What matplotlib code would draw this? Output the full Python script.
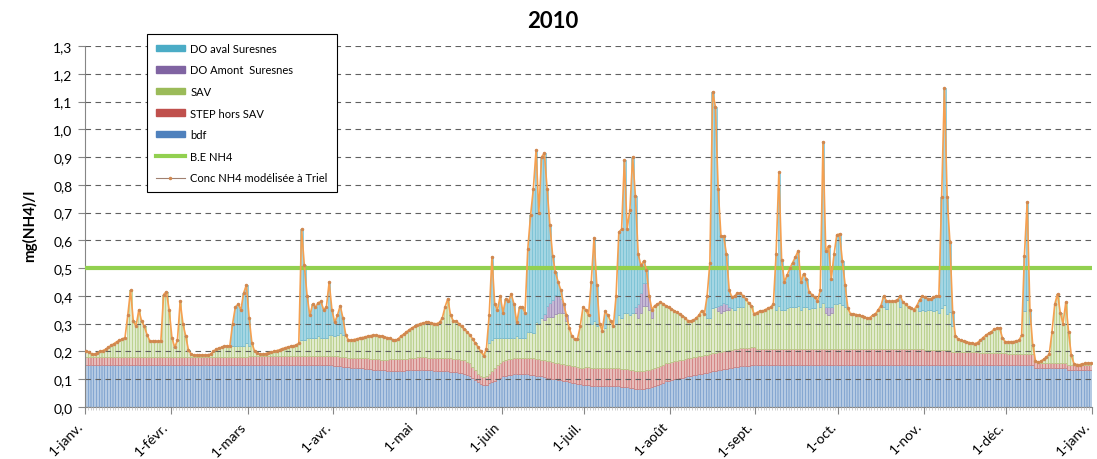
import numpy as np
import matplotlib
matplotlib.use("Agg")
import matplotlib.pyplot as plt
import matplotlib.transforms as mtransforms
from matplotlib.patches import Patch
from matplotlib.lines import Line2D
from matplotlib.colors import to_rgb

plt.rcParams['font.family'] = ['Lato', 'DejaVu Sans']

# Concentration NH4 modélisée à Triel, mg(NH4)/l, un point par jour (2010)
conc_triel = [
    # janv.
    0.200, 0.198, 0.190, 0.190, 0.195, 0.200, 0.203, 0.208, 0.215, 0.222,
    0.228, 0.235, 0.240, 0.245, 0.250, 0.330, 0.420, 0.310, 0.290, 0.350,
    0.310, 0.290, 0.260, 0.238, 0.236, 0.236, 0.236, 0.238, 0.405, 0.415,
    0.350,
    # févr.
    0.250, 0.215, 0.240, 0.380, 0.300, 0.255, 0.205, 0.190, 0.187, 0.187,
    0.187, 0.187, 0.187, 0.188, 0.190, 0.200, 0.208, 0.212, 0.215, 0.218,
    0.220, 0.220, 0.300, 0.360, 0.370, 0.350, 0.410, 0.440,
    # mars
    0.320, 0.230, 0.200, 0.195, 0.190, 0.190, 0.192, 0.195, 0.198, 0.200,
    0.203, 0.206, 0.210, 0.213, 0.216, 0.218, 0.220, 0.223, 0.230, 0.640,
    0.510, 0.400, 0.330, 0.370, 0.360, 0.375, 0.380, 0.350, 0.360, 0.450,
    0.350,
    # avr.
    0.305, 0.330, 0.365, 0.320, 0.260, 0.240, 0.240, 0.243, 0.245, 0.248,
    0.250, 0.252, 0.255, 0.257, 0.258, 0.258, 0.257, 0.255, 0.252, 0.250,
    0.247, 0.243, 0.240, 0.245, 0.255, 0.262, 0.270, 0.278, 0.285, 0.290,
    # mai
    0.295, 0.300, 0.302, 0.305, 0.305, 0.303, 0.300, 0.300, 0.305, 0.320,
    0.360, 0.390, 0.330, 0.310, 0.310, 0.300, 0.290, 0.280, 0.270, 0.260,
    0.245, 0.230, 0.215, 0.200, 0.185, 0.210, 0.330, 0.540, 0.370, 0.350,
    0.400,
    # juin
    0.340, 0.390, 0.380, 0.407, 0.370, 0.305, 0.360, 0.360, 0.340, 0.570,
    0.690, 0.785, 0.925, 0.700, 0.900, 0.915, 0.785, 0.655, 0.545, 0.485,
    0.450, 0.420, 0.370, 0.330, 0.285, 0.255, 0.245, 0.245, 0.290, 0.360,
    # juil.
    0.350, 0.330, 0.450, 0.610, 0.440, 0.300, 0.275, 0.345, 0.330, 0.310,
    0.290, 0.400, 0.630, 0.640, 0.890, 0.640, 0.710, 0.900, 0.760, 0.550,
    0.510, 0.525, 0.495, 0.400, 0.350, 0.365, 0.370, 0.377, 0.372, 0.365,
    0.360,
    # août
    0.353, 0.347, 0.341, 0.335, 0.329, 0.320, 0.311, 0.310, 0.312, 0.320,
    0.330, 0.347, 0.335, 0.400, 0.520, 1.135, 1.080, 0.785, 0.617, 0.615,
    0.550, 0.420, 0.395, 0.400, 0.410, 0.410, 0.400, 0.390, 0.375, 0.365,
    0.335,
    # sept.
    0.340, 0.345, 0.345, 0.350, 0.355, 0.360, 0.370, 0.550, 0.845, 0.530,
    0.450, 0.475, 0.500, 0.520, 0.540, 0.563, 0.450, 0.480, 0.460, 0.413,
    0.405, 0.395, 0.382, 0.420, 0.955, 0.560, 0.580, 0.460, 0.550, 0.620,
    # oct.
    0.623, 0.527, 0.440, 0.355, 0.335, 0.335, 0.333, 0.330, 0.328, 0.325,
    0.320, 0.322, 0.330, 0.335, 0.350, 0.365, 0.400, 0.382, 0.380, 0.380,
    0.382, 0.385, 0.400, 0.377, 0.370, 0.360, 0.355, 0.350, 0.365, 0.385,
    0.400,
    # nov.
    0.395, 0.390, 0.390, 0.395, 0.400, 0.400, 0.755, 1.148, 0.755, 0.593,
    0.341, 0.255, 0.245, 0.240, 0.238, 0.235, 0.232, 0.230, 0.228, 0.232,
    0.240, 0.250, 0.258, 0.265, 0.270, 0.280, 0.283, 0.285, 0.250, 0.235,
    # déc.
    0.235, 0.235, 0.235, 0.238, 0.240, 0.258, 0.545, 0.737, 0.350, 0.225,
    0.167, 0.161, 0.165, 0.172, 0.180, 0.190, 0.270, 0.370, 0.407, 0.340,
    0.300, 0.377, 0.270, 0.186, 0.155, 0.153, 0.152, 0.155, 0.157, 0.158,
    0.158,
]

# Part bruit de fond
bdf = [
    # janv.
    0.150, 0.150, 0.150, 0.150, 0.150, 0.150, 0.150, 0.150, 0.150, 0.150,
    0.150, 0.150, 0.150, 0.150, 0.150, 0.150, 0.150, 0.150, 0.150, 0.150,
    0.150, 0.150, 0.150, 0.150, 0.150, 0.150, 0.150, 0.150, 0.150, 0.150,
    0.150,
    # févr.
    0.150, 0.150, 0.150, 0.150, 0.150, 0.150, 0.150, 0.150, 0.150, 0.150,
    0.150, 0.150, 0.150, 0.150, 0.150, 0.150, 0.150, 0.150, 0.150, 0.150,
    0.150, 0.150, 0.150, 0.150, 0.150, 0.150, 0.150, 0.150,
    # mars
    0.150, 0.150, 0.150, 0.150, 0.150, 0.150, 0.150, 0.150, 0.150, 0.150,
    0.150, 0.150, 0.150, 0.150, 0.150, 0.150, 0.150, 0.150, 0.150, 0.150,
    0.150, 0.150, 0.150, 0.150, 0.150, 0.150, 0.150, 0.150, 0.150, 0.150,
    0.150,
    # avr.
    0.148, 0.147, 0.146, 0.145, 0.144, 0.143, 0.142, 0.141, 0.140, 0.140,
    0.139, 0.138, 0.137, 0.136, 0.135, 0.135, 0.134, 0.133, 0.132, 0.131,
    0.130, 0.130, 0.130, 0.130, 0.130, 0.131, 0.132, 0.133, 0.134, 0.135,
    # mai
    0.135, 0.135, 0.135, 0.134, 0.133, 0.132, 0.131, 0.130, 0.130, 0.130,
    0.129, 0.128, 0.127, 0.126, 0.125, 0.124, 0.122, 0.120, 0.115, 0.110,
    0.105, 0.098, 0.090, 0.083, 0.078, 0.080, 0.085, 0.090, 0.095, 0.100,
    0.105,
    # juin
    0.110, 0.112, 0.115, 0.117, 0.118, 0.120, 0.120, 0.120, 0.120, 0.118,
    0.117, 0.115, 0.113, 0.112, 0.110, 0.108, 0.106, 0.104, 0.102, 0.100,
    0.098, 0.096, 0.094, 0.092, 0.090, 0.088, 0.086, 0.084, 0.082, 0.080,
    # juil.
    0.079, 0.078, 0.077, 0.077, 0.077, 0.077, 0.077, 0.077, 0.077, 0.077,
    0.076, 0.075, 0.074, 0.073, 0.072, 0.071, 0.070, 0.068, 0.066, 0.065,
    0.065, 0.066, 0.068, 0.070, 0.073, 0.076, 0.080, 0.084, 0.088, 0.092,
    0.095,
    # août
    0.098, 0.100, 0.102, 0.104, 0.106, 0.108, 0.110, 0.112, 0.114, 0.116,
    0.118, 0.120, 0.122, 0.124, 0.126, 0.128, 0.130, 0.132, 0.134, 0.136,
    0.138, 0.140, 0.142, 0.144, 0.145, 0.146, 0.147, 0.148, 0.149, 0.150,
    0.150,
    # sept.
    0.150, 0.150, 0.150, 0.150, 0.150, 0.150, 0.150, 0.150, 0.150, 0.150,
    0.150, 0.150, 0.150, 0.150, 0.150, 0.150, 0.150, 0.150, 0.150, 0.150,
    0.150, 0.150, 0.150, 0.150, 0.150, 0.150, 0.150, 0.150, 0.150, 0.150,
    # oct.
    0.150, 0.150, 0.150, 0.150, 0.150, 0.150, 0.150, 0.150, 0.150, 0.150,
    0.150, 0.150, 0.150, 0.150, 0.150, 0.150, 0.150, 0.150, 0.150, 0.150,
    0.150, 0.150, 0.150, 0.150, 0.150, 0.150, 0.150, 0.150, 0.150, 0.150,
    0.150,
    # nov.
    0.150, 0.150, 0.150, 0.150, 0.150, 0.150, 0.150, 0.150, 0.150, 0.150,
    0.150, 0.150, 0.150, 0.150, 0.150, 0.150, 0.150, 0.150, 0.150, 0.150,
    0.150, 0.150, 0.150, 0.150, 0.150, 0.150, 0.150, 0.150, 0.150, 0.150,
    # déc.
    0.150, 0.150, 0.150, 0.150, 0.150, 0.150, 0.150, 0.150, 0.150, 0.150,
    0.142, 0.140, 0.140, 0.140, 0.140, 0.140, 0.140, 0.140, 0.140, 0.140,
    0.140, 0.140, 0.135, 0.135, 0.135, 0.135, 0.135, 0.135, 0.135, 0.135,
    0.135,
]

# Part des stations d'épuration hors Seine Aval
step_hors_sav = [
    # janv.
    0.030, 0.030, 0.030, 0.030, 0.030, 0.030, 0.030, 0.030, 0.030, 0.030,
    0.030, 0.030, 0.030, 0.030, 0.030, 0.030, 0.030, 0.030, 0.030, 0.030,
    0.030, 0.030, 0.030, 0.030, 0.030, 0.030, 0.030, 0.030, 0.030, 0.030,
    0.030,
    # févr.
    0.030, 0.030, 0.030, 0.030, 0.030, 0.030, 0.030, 0.030, 0.030, 0.030,
    0.030, 0.030, 0.030, 0.030, 0.030, 0.030, 0.030, 0.030, 0.030, 0.030,
    0.030, 0.030, 0.030, 0.030, 0.030, 0.030, 0.030, 0.030,
    # mars
    0.032, 0.032, 0.032, 0.032, 0.032, 0.032, 0.032, 0.032, 0.032, 0.032,
    0.032, 0.032, 0.032, 0.032, 0.032, 0.032, 0.032, 0.032, 0.032, 0.032,
    0.032, 0.032, 0.032, 0.032, 0.032, 0.032, 0.032, 0.032, 0.032, 0.032,
    0.032,
    # avr.
    0.035, 0.035, 0.035, 0.035, 0.035, 0.035, 0.035, 0.035, 0.035, 0.035,
    0.038, 0.038, 0.038, 0.038, 0.038, 0.038, 0.038, 0.038, 0.038, 0.038,
    0.042, 0.042, 0.042, 0.042, 0.042, 0.042, 0.042, 0.042, 0.042, 0.042,
    # mai
    0.045, 0.045, 0.045, 0.045, 0.045, 0.045, 0.045, 0.045, 0.045, 0.045,
    0.048, 0.048, 0.048, 0.048, 0.048, 0.048, 0.048, 0.048, 0.048, 0.048,
    0.040, 0.035, 0.030, 0.030, 0.030, 0.032, 0.035, 0.040, 0.045, 0.050,
    0.055,
    # juin
    0.057, 0.057, 0.057, 0.057, 0.057, 0.057, 0.057, 0.057, 0.057, 0.057,
    0.060, 0.060, 0.060, 0.060, 0.060, 0.060, 0.060, 0.060, 0.060, 0.060,
    0.060, 0.060, 0.060, 0.060, 0.060, 0.060, 0.060, 0.060, 0.060, 0.060,
    # juil.
    0.065, 0.065, 0.065, 0.065, 0.065, 0.065, 0.065, 0.065, 0.065, 0.065,
    0.065, 0.065, 0.065, 0.065, 0.065, 0.065, 0.065, 0.065, 0.065, 0.065,
    0.065, 0.065, 0.065, 0.065, 0.065, 0.065, 0.065, 0.065, 0.065, 0.065,
    0.065,
    # août
    0.065, 0.065, 0.065, 0.065, 0.065, 0.065, 0.065, 0.065, 0.065, 0.065,
    0.065, 0.065, 0.065, 0.065, 0.065, 0.065, 0.065, 0.065, 0.065, 0.065,
    0.065, 0.065, 0.065, 0.065, 0.065, 0.065, 0.065, 0.065, 0.065, 0.065,
    0.065,
    # sept.
    0.060, 0.060, 0.060, 0.060, 0.060, 0.060, 0.060, 0.060, 0.060, 0.060,
    0.060, 0.060, 0.060, 0.060, 0.060, 0.060, 0.060, 0.060, 0.060, 0.060,
    0.060, 0.060, 0.060, 0.060, 0.060, 0.060, 0.060, 0.060, 0.060, 0.060,
    # oct.
    0.060, 0.060, 0.060, 0.060, 0.060, 0.060, 0.060, 0.060, 0.060, 0.060,
    0.060, 0.060, 0.060, 0.060, 0.060, 0.060, 0.060, 0.060, 0.060, 0.060,
    0.060, 0.060, 0.060, 0.060, 0.060, 0.060, 0.060, 0.060, 0.060, 0.060,
    0.060,
    # nov.
    0.055, 0.055, 0.055, 0.055, 0.055, 0.055, 0.055, 0.055, 0.055, 0.055,
    0.048, 0.048, 0.048, 0.048, 0.048, 0.048, 0.048, 0.048, 0.048, 0.048,
    0.045, 0.045, 0.045, 0.045, 0.045, 0.045, 0.045, 0.045, 0.045, 0.045,
    # déc.
    0.040, 0.040, 0.040, 0.040, 0.040, 0.040, 0.040, 0.040, 0.040, 0.040,
    0.020, 0.020, 0.020, 0.020, 0.020, 0.020, 0.020, 0.020, 0.020, 0.020,
    0.020, 0.020, 0.015, 0.015, 0.015, 0.015, 0.015, 0.015, 0.015, 0.015,
    0.015,
]

# Déversoirs d'orage : seuls les jours de pluie ont une contribution (jour -> mg/l)
do_amont_suresnes = {
    166: 0.02, 167: 0.04, 168: 0.05, 169: 0.06, 170: 0.07, 171: 0.06,
    172: 0.05, 173: 0.03, 174: 0.02,
    199: 0.02, 200: 0.05, 201: 0.07, 202: 0.08, 203: 0.08, 204: 0.05, 205: 0.03,
    229: 0.02, 230: 0.03, 231: 0.03, 232: 0.02, 233: 0.01,
    268: 0.02, 269: 0.03, 270: 0.02,
}
do_aval_suresnes = {
    53: 0.08, 54: 0.14, 55: 0.15, 56: 0.13, 57: 0.19, 58: 0.21, 59: 0.10,
    78: 0.40, 79: 0.27, 80: 0.15, 81: 0.08, 82: 0.12, 83: 0.11, 84: 0.12,
    85: 0.13, 86: 0.10, 87: 0.11, 88: 0.19, 89: 0.09, 90: 0.05, 91: 0.07,
    92: 0.10, 93: 0.06,
    146: 0.10, 147: 0.30, 148: 0.12, 149: 0.10, 150: 0.15, 151: 0.09,
    152: 0.14, 153: 0.13, 154: 0.16, 155: 0.12, 156: 0.05, 157: 0.11,
    158: 0.11, 159: 0.09,
    160: 0.30, 161: 0.42, 162: 0.52, 163: 0.62, 164: 0.40, 165: 0.58,
    166: 0.58, 167: 0.42, 168: 0.28, 169: 0.16, 170: 0.08, 171: 0.05, 172: 0.03,
    183: 0.15, 184: 0.30, 185: 0.15, 188: 0.06, 192: 0.10, 193: 0.30,
    194: 0.32, 195: 0.55, 196: 0.30, 197: 0.38, 198: 0.56, 199: 0.40,
    200: 0.18, 201: 0.10, 202: 0.08, 203: 0.05,
    225: 0.08, 226: 0.20, 227: 0.78, 228: 0.72, 229: 0.42, 230: 0.25,
    231: 0.24, 232: 0.18, 233: 0.06, 234: 0.04, 235: 0.05, 236: 0.05,
    237: 0.05, 238: 0.04,
    250: 0.20, 251: 0.48, 252: 0.18, 253: 0.10, 254: 0.12, 255: 0.14,
    256: 0.16, 257: 0.18, 258: 0.20, 259: 0.10, 260: 0.12, 261: 0.10,
    262: 0.06, 263: 0.05, 264: 0.04, 266: 0.06, 267: 0.58, 268: 0.20,
    269: 0.22, 270: 0.10, 271: 0.18, 272: 0.25, 273: 0.25, 274: 0.16, 275: 0.08,
    289: 0.04, 290: 0.03, 295: 0.04, 302: 0.04, 303: 0.05, 304: 0.05,
    305: 0.04, 306: 0.04, 307: 0.05, 308: 0.05, 309: 0.06,
    310: 0.40, 311: 0.78, 312: 0.42, 313: 0.25, 314: 0.05,
    340: 0.20, 341: 0.35, 342: 0.05,
}

seuil_be_nh4 = 0.5

etiquettes_mois = ["1-janv.", "1-févr.", "1-mars", "1-avr.", "1-mai", "1-juin",
                   "1-juil.", "1-août", "1-sept.", "1-oct.", "1-nov.", "1-déc.",
                   "1-janv."]
jours_par_mois = [31, 28, 31, 30, 31, 30, 31, 31, 30, 31, 30, 31]

# --- mise en forme des séries ---
n = len(conc_triel)
jours = np.arange(n)
conc = np.array(conc_triel)
bdf_a = np.array(bdf)
step_a = np.array(step_hors_sav)
amont_a = np.zeros(n)
for j, v in do_amont_suresnes.items():
    amont_a[j] = v
aval_a = np.zeros(n)
for j, v in do_aval_suresnes.items():
    aval_a[j] = v
# la part SAV complète la concentration modélisée
sav_a = np.clip(conc - bdf_a - step_a - amont_a - aval_a, 0, None)

couleurs = {
    "bdf": "#4F81BD",
    "step": "#C0504D",
    "sav": "#9BBB59",
    "amont": "#8064A2",
    "aval": "#4BACC6",
}


def eclaircir(c, f):
    r, g, b = to_rgb(c)
    return (1 - f * (1 - r), 1 - f * (1 - g), 1 - f * (1 - b))


fig = plt.figure(figsize=(10.97, 4.60), dpi=100)
ax = fig.add_axes([85 / 1097, 1 - 408 / 460, 1007 / 1097, 361 / 460])

bas = np.zeros(n)
for valeurs, cle, f in [(bdf_a, "bdf", 0.42), (step_a, "step", 0.38),
                        (sav_a, "sav", 0.3), (amont_a, "amont", 0.45),
                        (aval_a, "aval", 0.5)]:
    ax.bar(jours, valeurs, width=0.9, bottom=bas, color=eclaircir(couleurs[cle], f),
           edgecolor=eclaircir(couleurs[cle], 0.8), linewidth=0.45, zorder=1)
    bas = bas + valeurs

ax.axhline(seuil_be_nh4, color="#92D050", linewidth=3, zorder=3)
ax.plot(jours, conc, color="#F5A050", linewidth=1.2, marker="o", markersize=1.5,
        markerfacecolor="#d08850", markeredgecolor="#d08850", zorder=4)

ax.set_xlim(-0.5, n - 0.5)
ax.set_ylim(0, 1.3)

debuts = np.concatenate([[0], np.cumsum(jours_par_mois)]) - 0.5
ax.set_xticks(debuts)
ax.set_xticklabels(etiquettes_mois, rotation=45, ha="right", va="top",
                   rotation_mode="anchor", fontsize=10)
ax.set_xticks(jours - 0.5, minor=True)
ax.tick_params(axis="x", which="major", length=5, color="#868686", pad=4)
ax.tick_params(axis="x", which="minor", length=2, color="#c8c8c8")

yt = np.round(np.arange(0, 1.31, 0.1), 1)
ax.set_yticks(yt)
ax.set_yticklabels([f"{v:.1f}".replace(".", ",") for v in yt], fontsize=10)
ax.tick_params(axis="y", length=5, color="#868686", pad=4)

# étiquettes de mois décalées vers la gauche pour rester dans la figure
decalage = mtransforms.ScaledTranslation(-6 / 72, 0, fig.dpi_scale_trans)
for lab in ax.xaxis.get_majorticklabels():
    lab.set_transform(lab.get_transform() + decalage)

ax.set_axisbelow(False)
ax.yaxis.grid(True, linestyle=(0, (5, 4)), color="#606060", linewidth=0.8)
for s in ["top", "right"]:
    ax.spines[s].set_visible(False)
for s in ["left", "bottom"]:
    ax.spines[s].set_color("#868686")

fig.text(553 / 1097, 1 - 22 / 460, "2010", fontsize=16, fontweight="bold",
         ha="center", va="center")
fig.text(0.027, 1 - 226 / 460, "mg(NH4)/l", fontsize=11, fontweight="bold",
         rotation=90, ha="center", va="center")

poignees = [
    Patch(color=couleurs["aval"]),
    Patch(color=couleurs["amont"]),
    Patch(color=couleurs["sav"]),
    Patch(color=couleurs["step"]),
    Patch(color=couleurs["bdf"]),
    Line2D([], [], color="#92D050", linewidth=3),
    Line2D([], [], color="#a08070", linewidth=0.8, marker="o", markersize=1.5,
           markerfacecolor="#d08850", markeredgecolor="#d08850"),
]
libelles = ["DO aval Suresnes", "DO Amont  Suresnes", "SAV", "STEP hors SAV",
            "bdf", "B.E NH4", "Conc NH4 modélisée à Triel"]
leg = fig.legend(poignees, libelles, loc="upper left",
                 bbox_to_anchor=(147 / 1097, 1 - 35 / 460), borderaxespad=0,
                 fontsize=8, labelspacing=0.95, handlelength=2.6,
                 handleheight=0.5, handletextpad=0.5, borderpad=0.8,
                 frameon=True, fancybox=False, framealpha=1, edgecolor="black")
leg.get_frame().set_linewidth(0.8)

fig.savefig("out.png", dpi=100)
